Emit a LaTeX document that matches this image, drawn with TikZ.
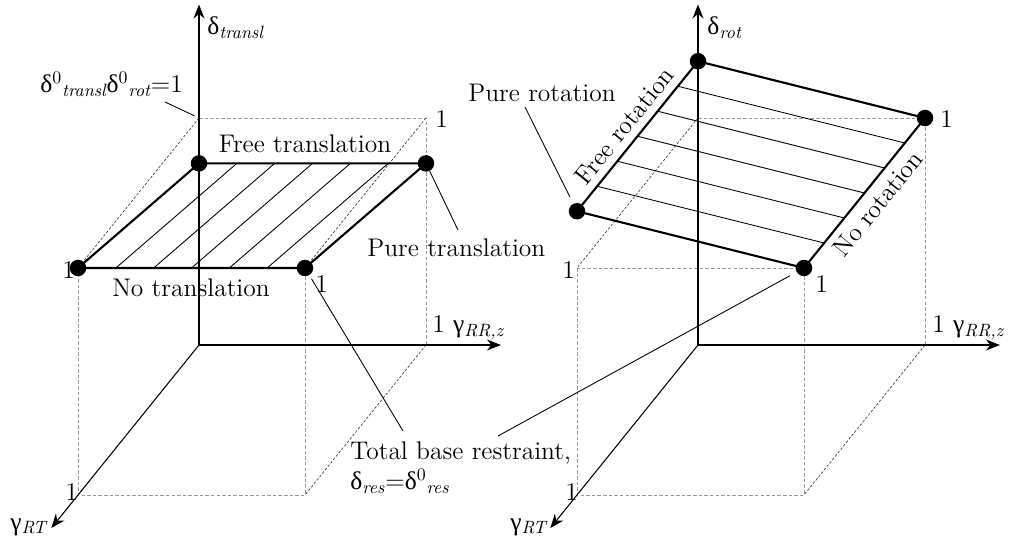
\documentclass[tikz,border=0pt]{standalone}
\usepackage{fontspec}
\usetikzlibrary{positioning,arrows.meta}
\newfontfamily\grkfont{Liberation Serif}
\newcommand{\dlt}{{\grkfont δ}}
\newcommand{\gmm}{{\grkfont γ}}

\begin{document}
\begin{tikzpicture}[
    font=\fontsize{14.5}{17.6}\selectfont,
    cube/.style={x={(4.54cm,0cm)}, y={(0cm,4.54cm)}, z={(-2.42cm,-3cm)}},
    axis/.style={-{Stealth[length=2.8mm,width=2.2mm]}, line width=0.6pt},
    guide/.style={gray!80, line width=0.4pt, dash pattern=on 2pt off 1.2pt},
    guidedk/.style={black!80, line width=0.35pt, dash pattern=on 1.5pt off 1pt},
    edge/.style={line width=1.2pt},
    hatch/.style={line width=0.5pt},
    leader/.style={line width=0.5pt},
    dot/.style={circle, fill=black, inner sep=0pt, minimum size=3.3mm},
    lbl/.style={inner sep=0pt, anchor=base west}
]
\useasboundingbox (0,0) rectangle (20.26,10.82);

% translation cube
\begin{scope}[shift={(3.98,3.92)}, cube]
    \coordinate (l000) at (0,0,0);
    \coordinate (l100) at (1,0,0);
    \coordinate (l001) at (0,0,1);
    \coordinate (l101) at (1,0,1);
    \coordinate (l010) at (0,1,0);
    \coordinate (l110) at (1,1,0);
    \coordinate (l011) at (0,1,1);
    \coordinate (l111) at (1,1,1);
    \coordinate (lx) at (1.33,0,0);
    \coordinate (ly) at (0,1.5,0);
    \coordinate (lz) at (0,0,1.22);
    \draw[guide] (l010) -- (l110) -- (l100);
    \draw[guide] (l011) -- (l001) -- (l101) -- (l111);
    \draw[guidedk] (l010) -- (l011);
    \draw[guidedk] (l110) -- (l111);
    \draw[guidedk] (l100) -- (l101);
    \draw[axis] (l000) -- (ly);
    \draw[axis] (l000) -- (lx);
    \draw[axis] (l000) -- (lz);
    \foreach \k in {1,...,5}
        \draw[hatch] (\k/6,1,1) -- (\k/6,0.8,0);
    \node[dot] (tA) at (l011) {};
    \node[dot] (tB) at (l111) {};
    \node[dot] (tC) at (1,0.8,0) {};
    \node[dot] (tD) at (0,0.8,0) {};
    \draw[edge] (tA.center) -- (tB.center) -- (tC.center) -- (tD.center) -- cycle;
\end{scope}

% rotation cube
\begin{scope}[shift={(13.96,3.92)}, cube]
    \coordinate (r000) at (0,0,0);
    \coordinate (r100) at (1,0,0);
    \coordinate (r001) at (0,0,1);
    \coordinate (r101) at (1,0,1);
    \coordinate (r010) at (0,1,0);
    \coordinate (r110) at (1,1,0);
    \coordinate (r011) at (0,1,1);
    \coordinate (r111) at (1,1,1);
    \coordinate (rx) at (1.33,0,0);
    \coordinate (ry) at (0,1.5,0);
    \coordinate (rz) at (0,0,1.22);
    \draw[guide] (r010) -- (r110) -- (r100);
    \draw[guide] (r011) -- (r001) -- (r101) -- (r111) -- (r011);
    \draw[guidedk] (r010) -- (r011);
    \draw[guidedk] (r100) -- (r101);
    \draw[axis] (r000) -- (ry);
    \draw[axis] (r000) -- (rx);
    \draw[axis] (r000) -- (rz);
    \foreach \k in {1,...,5}
        \draw[hatch] (0,1.25,\k/6) -- (1,1,\k/6);
    \node[dot] (rA) at (0,1.25,1) {};
    \node[dot] (rB) at (0,1.25,0) {};
    \node[dot] (rC) at (r110) {};
    \node[dot] (rD) at (r111) {};
    \draw[edge] (rA.center) -- (rB.center) -- (rC.center) -- (rD.center) -- cycle;
\end{scope}

% labels, translation
\node[lbl] (dtr) at (4.14,10.12) {\dlt\textsubscript{\itshape transl}};
\node[lbl] (dzero) at (0.80,8.96) {\dlt\textsuperscript{0}\textsubscript{\itshape transl}\dlt\textsuperscript{0}\textsubscript{\itshape rot}=1};
\node[lbl] (lone1) at (8.70,8.26) {1};
\node[inner sep=0pt, anchor=base] (lft) at (6.10,7.76) {Free translation};
\node[lbl] (lpt) at (7.34,5.68) {Pure translation};
\node[lbl] (lone2) at (1.24,5.24) {1};
\node[inner sep=0pt, anchor=base] (lnt) at (3.82,4.88) {No translation};
\node[lbl] (lone3) at (6.30,4.96) {1};
\node[lbl] (lrr) at (8.64,4.16) {1 \gmm\textsubscript{\itshape RR,z}};
\node[lbl] (lone4) at (1.30,0.82) {1};
\node[lbl] (lrt) at (0.20,0.22) {\gmm\textsubscript{\itshape RT}};
\node[inner sep=0pt, anchor=north west, align=left] (tbr) at (7.00,2.00)
    {Total base restraint,\\\dlt\textsubscript{\itshape res}=\dlt\textsuperscript{0}\textsubscript{\itshape res}};

% labels, rotation
\node[lbl] (drt) at (14.14,10.12) {\dlt\textsubscript{\itshape rot}};
\node[lbl] (rpr) at (9.36,8.78) {Pure rotation};
\path (rA.center) -- (rB.center) node[midway, sloped, above=1pt] (rfr) {Free rotation};
\path (rD.center) -- (rC.center) node[midway, sloped, below=1pt] (rnr) {No rotation};
\node[lbl] (rone1) at (18.80,8.26) {1};
\node[lbl] (rone2) at (11.24,5.24) {1};
\node[lbl] (rone3) at (16.30,4.96) {1};
\node[lbl] (rrr) at (18.64,4.16) {1 \gmm\textsubscript{\itshape RR,z}};
\node[lbl] (rone4) at (11.30,0.82) {1};
\node[lbl] (rrt) at (10.20,0.22) {\gmm\textsubscript{\itshape RT}};

% leaders
\coordinate (pzero) at (3.30,8.78);
\coordinate (ppt) at (9.16,6.22);
\coordinate (ptbl) at (8.06,2.20);
\coordinate (ptbr) at (9.96,2.10);
\coordinate (ppr) at (10.50,8.68);
\draw[leader, shorten >=1mm] (pzero) -- (l010);
\draw[leader] (ppt) -- (tC);
\draw[leader, shorten >=0.8mm] (ptbl) -- (tB);
\draw[leader, shorten >=1.5mm] (ptbr) -- (rD);
\draw[leader, shorten >=1.5mm] (ppr) -- (rA);
\end{tikzpicture}
\end{document}
